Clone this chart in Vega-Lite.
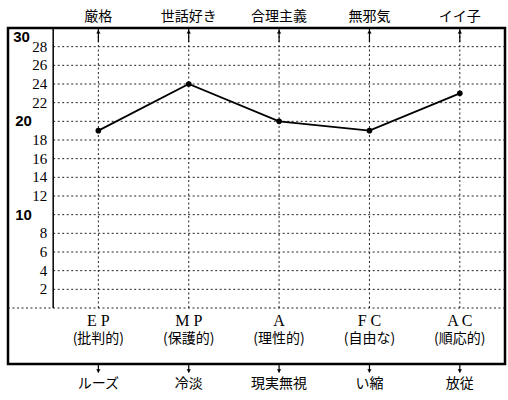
{
  "$schema": "https://vega.github.io/schema/vega-lite/v6.json",
  "width": 497,
  "height": 336,
  "autosize": "none",
  "padding": {"left": 8, "top": 28, "right": 3, "bottom": 36},
  "background": "white",
  "config": {
    "view": {"stroke": "black", "strokeWidth": 2.5},
    "text": {"color": "black"},
    "axis": {"disable": true}
  },
  "datasets": {
    "ego": [
      {"k": "EP", "v": 19, "name": "E P", "sub": "(批判的)", "top": "厳格", "bottom": "ルーズ"},
      {"k": "MP", "v": 24, "name": "M P", "sub": "(保護的)", "top": "世話好き", "bottom": "冷淡"},
      {"k": "A", "v": 20, "name": "A", "sub": "(理性的)", "top": "合理主義", "bottom": "現実無視"},
      {"k": "FC", "v": 19, "name": "F C", "sub": "(自由な)", "top": "無邪気", "bottom": "い縮"},
      {"k": "AC", "v": 23, "name": "A C", "sub": "(順応的)", "top": "イイ子", "bottom": "放従"}
    ],
    "grid": [
      {"g": 2}, {"g": 4}, {"g": 6}, {"g": 8}, {"g": 10}, {"g": 12}, {"g": 14},
      {"g": 16}, {"g": 18}, {"g": 20}, {"g": 22}, {"g": 24}, {"g": 26}, {"g": 28}
    ],
    "major": [{"m": 10}, {"m": 20}, {"m": 30}],
    "one": [{}]
  },
  "data": {"name": "ego"},
  "layer": [
    {
      "data": {"name": "grid"},
      "mark": {"type": "rule", "strokeDash": [2, 2.5], "color": "#222", "strokeWidth": 1},
      "encoding": {
        "x": {
          "datum": "EP", "type": "nominal", "bandPosition": 0, "axis": null,
          "scale": {"type": "band", "domain": ["EP", "MP", "A", "FC", "AC"], "paddingInner": 0, "paddingOuter": 0.25, "align": 1}
        },
        "x2": {"value": "width"},
        "y": {
          "field": "g", "type": "quantitative", "axis": null,
          "scale": {"domain": [-6, 30], "nice": false, "zero": false}
        }
      }
    },
    {
      "data": {"name": "one"},
      "mark": {"type": "rule", "strokeDash": [2, 2.5], "color": "#222", "strokeWidth": 1},
      "encoding": {"y": {"datum": 0, "type": "quantitative"}}
    },
    {
      "mark": {"type": "rule", "strokeDash": [2, 2.5], "color": "#222", "strokeWidth": 1},
      "encoding": {
        "x": {"field": "k", "type": "nominal", "axis": null, "scale": {"type": "band"}},
        "y": {"datum": 0, "type": "quantitative"},
        "y2": {"datum": 30}
      }
    },
    {
      "data": {"name": "one"},
      "mark": {"type": "rule", "color": "black", "strokeWidth": 1.5},
      "encoding": {
        "x": {"datum": "EP", "type": "nominal", "bandPosition": 0, "axis": null, "scale": {"type": "band"}},
        "y": {"datum": 0, "type": "quantitative"},
        "y2": {"datum": 30}
      }
    },
    {
      "data": {"name": "grid"},
      "transform": [{"filter": "datum.g % 10 !== 0"}],
      "mark": {"type": "text", "font": "Liberation Serif", "fontSize": 15, "align": "right", "baseline": "middle", "dx": -6},
      "encoding": {
        "x": {"datum": "EP", "type": "nominal", "bandPosition": 0, "axis": null, "scale": {"type": "band"}},
        "y": {"field": "g", "type": "quantitative"},
        "text": {"field": "g"}
      }
    },
    {
      "data": {"name": "major"},
      "transform": [{"filter": "datum.m < 30"}],
      "mark": {"type": "text", "font": "Liberation Sans", "fontSize": 15, "fontWeight": "bold", "align": "left", "baseline": "middle", "dx": -38},
      "encoding": {
        "x": {"datum": "EP", "type": "nominal", "bandPosition": 0, "axis": null, "scale": {"type": "band"}},
        "y": {"field": "m", "type": "quantitative"},
        "text": {"field": "m"}
      }
    },
    {
      "data": {"name": "major"},
      "transform": [{"filter": "datum.m === 30"}],
      "mark": {"type": "text", "font": "Liberation Sans", "fontSize": 15, "fontWeight": "bold", "align": "left", "baseline": "top", "dx": -40, "dy": 2},
      "encoding": {
        "x": {"datum": "EP", "type": "nominal", "bandPosition": 0, "axis": null, "scale": {"type": "band"}},
        "y": {"field": "m", "type": "quantitative"},
        "text": {"field": "m"}
      }
    },
    {
      "mark": {"type": "rule", "color": "black", "strokeWidth": 1.2},
      "encoding": {
        "x": {"field": "k", "type": "nominal", "axis": null, "scale": {"type": "band"}},
        "y": {"datum": 30, "type": "quantitative"},
        "y2": {"datum": 28.5}
      }
    },
    {
      "mark": {"type": "point", "shape": "triangle-up", "filled": true, "color": "black", "size": 18, "opacity": 1},
      "encoding": {
        "x": {"field": "k", "type": "nominal", "axis": null, "scale": {"type": "band"}},
        "y": {"datum": 29.6, "type": "quantitative"}
      }
    },
    {
      "mark": {"type": "rule", "color": "black", "strokeWidth": 1.2},
      "encoding": {
        "x": {"field": "k", "type": "nominal", "axis": null, "scale": {"type": "band"}},
        "y": {"datum": -6, "type": "quantitative"},
        "y2": {"datum": -6.9}
      }
    },
    {
      "mark": {"type": "point", "shape": "triangle-down", "filled": true, "color": "black", "size": 18, "opacity": 1},
      "encoding": {
        "x": {"field": "k", "type": "nominal", "axis": null, "scale": {"type": "band"}},
        "y": {"datum": -6.75, "type": "quantitative"}
      }
    },
    {
      "mark": {"type": "line", "color": "black", "strokeWidth": 1.8},
      "encoding": {
        "x": {"field": "k", "type": "nominal", "axis": null, "scale": {"type": "band"}},
        "y": {"field": "v", "type": "quantitative", "title": null}
      }
    },
    {
      "mark": {"type": "point", "shape": "circle", "filled": true, "color": "black", "size": 32, "opacity": 1},
      "encoding": {
        "x": {"field": "k", "type": "nominal", "axis": null, "scale": {"type": "band"}},
        "y": {"field": "v", "type": "quantitative", "title": null}
      }
    },
    {
      "mark": {"type": "text", "font": "Noto Sans CJK JP", "fontSize": 14, "baseline": "middle"},
      "encoding": {
        "x": {"field": "k", "type": "nominal", "axis": null, "scale": {"type": "band"}},
        "y": {"datum": 31.2, "type": "quantitative"},
        "text": {"field": "top"}
      }
    },
    {
      "mark": {"type": "text", "font": "Liberation Serif", "fontSize": 16, "baseline": "middle"},
      "encoding": {
        "x": {"field": "k", "type": "nominal", "axis": null, "scale": {"type": "band"}},
        "y": {"datum": -1.34, "type": "quantitative"},
        "text": {"field": "name"}
      }
    },
    {
      "mark": {"type": "text", "font": "Noto Sans CJK JP", "fontSize": 14, "baseline": "middle"},
      "encoding": {
        "x": {"field": "k", "type": "nominal", "axis": null, "scale": {"type": "band"}},
        "y": {"datum": -3.32, "type": "quantitative"},
        "text": {"field": "sub"}
      }
    },
    {
      "mark": {"type": "text", "font": "Noto Sans CJK JP", "fontSize": 14, "baseline": "middle"},
      "encoding": {
        "x": {"field": "k", "type": "nominal", "axis": null, "scale": {"type": "band"}},
        "y": {"datum": -8.14, "type": "quantitative"},
        "text": {"field": "bottom"}
      }
    }
  ]
}
